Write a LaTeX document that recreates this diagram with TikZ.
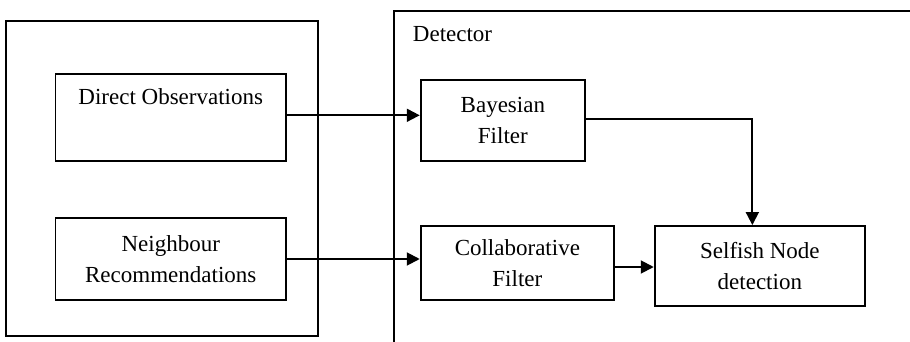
\documentclass[tikz,border=0pt]{standalone}
\usepackage{fontspec}
\setmainfont{Liberation Serif}
\usetikzlibrary{arrows.meta}
\begin{document}
\begin{tikzpicture}[x=1pt,y=-1pt, line width=1.9pt,
  font=\fontsize{23}{30.5}\selectfont,
  box/.style={draw, rectangle, inner sep=0pt, align=center},
  conn/.style={-{Triangle[length=13pt,width=13pt]}}]
\useasboundingbox (0,0) rectangle (910,342);
% source container
\node[box, minimum width=312pt, minimum height=315pt] (src) at (162,178.5) {};
\node[box, minimum width=230.5pt, minimum height=87pt,
  label={[anchor=base, yshift=-31pt, inner sep=0pt]north:Direct Observations}] (dobs) at (170.75,117.5) {};
\node[box, minimum width=230.5pt, minimum height=82pt] (nbr) at (170.75,259) {Neighbour\\Recommendations};
% detector container (clipped by the picture edge)
\coordinate (dtl) at (394,11);
\draw (910,11) -- (dtl) -- (394,342);
\node[anchor=base west, inner sep=0pt] (det) at (412,41.7) {Detector};
\node[box, minimum width=164.3pt, minimum height=81pt] (bayes) at (502.85,120.5) {Bayesian\\Filter};
\node[box, minimum width=193.3pt, minimum height=74pt] (collab) at (517.35,263) {Collaborative\\Filter};
\node[box, minimum width=210.3pt, minimum height=80pt] (selfish) at (759.85,266) {Selfish Node\\detection};
% connectors
\draw[conn] ([yshift=2.2pt]dobs.east) -- ([yshift=2.2pt]dobs.east -| bayes.west);
\draw[conn] (nbr.east) -- (nbr.east -| collab.west);
\draw[conn] ([yshift=1.5pt]bayes.east) -| ([xshift=-7.5pt]selfish.north);
\draw[conn] ([yshift=-4pt]collab.east) -- ([yshift=-4pt]collab.east -| selfish.west);
\end{tikzpicture}
\end{document}
